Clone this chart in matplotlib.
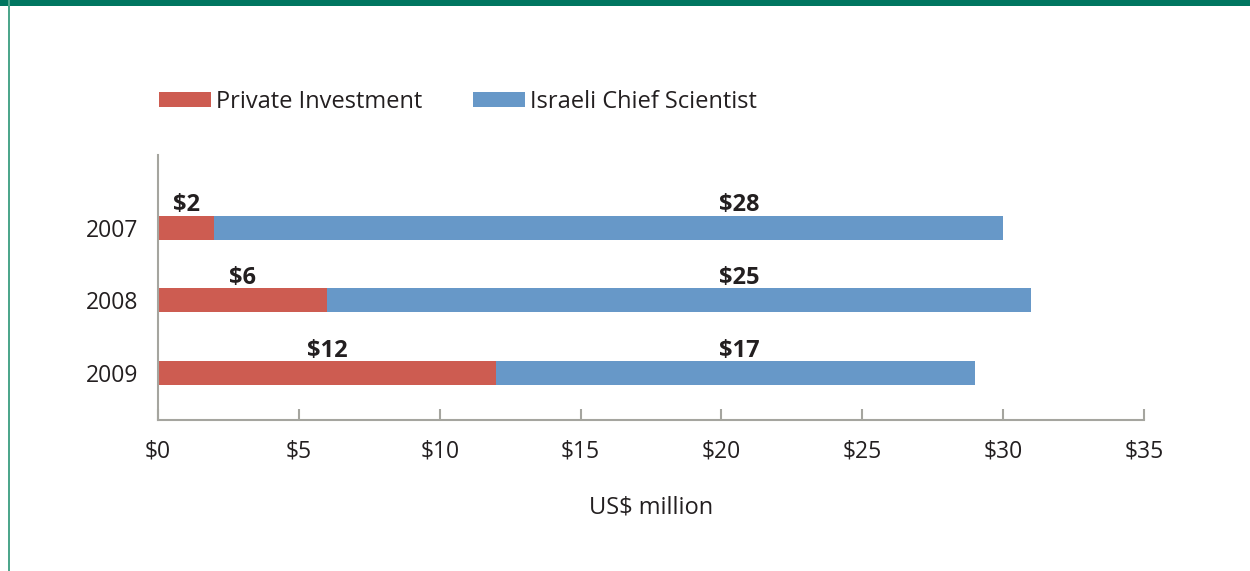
import numpy as np
import matplotlib.pyplot as plt
from matplotlib.patches import Rectangle

years = ['2007', '2008', '2009']
private = [2, 6, 12]
chief = [28, 25, 17]
xticks = [0, 5, 10, 15, 20, 25, 30, 35]

red = '#cd5c51'
blue = '#6798c8'
grey = '#a5a59f'
txt = '#231f20'
plt.rcParams['font.family'] = ['Open Sans', 'DejaVu Sans']

fig = plt.figure(figsize=(12.5, 5.71), dpi=100)
ax = fig.add_axes([0.1264, 0.2644, 0.7888, 0.4641])

y = np.arange(len(years))
h = 0.33
ax.barh(y, private, height=h, color=red, label='Private Investment')
ax.barh(y, chief, left=private, height=h, color=blue, label='Israeli Chief Scientist')

for i in range(len(years)):
    ax.annotate('$%d' % private[i], (private[i] / 2, y[i] - h / 2), xytext=(0, 3),
                textcoords='offset points', ha='center', va='baseline',
                fontsize=17, fontweight='bold', color=txt)
    ax.annotate('$%d' % chief[i], (20.65, y[i] - h / 2), xytext=(0, 3),
                textcoords='offset points', ha='center', va='baseline',
                fontsize=17, fontweight='bold', color=txt)

ax.set_xlim(0, 35)
ax.set_ylim(2.65, -1.0)
ax.set_yticks(y)
ax.set_yticklabels(years)
ax.set_xticks(xticks)
ax.set_xticklabels(['$%d' % v for v in xticks])
ax.tick_params(axis='y', length=0, pad=14, labelsize=16.5, labelcolor=txt)
ax.tick_params(axis='x', direction='in', length=8, width=1.5, color=grey,
               pad=14, labelsize=16.5, labelcolor=txt)
for s in ['top', 'right']:
    ax.spines[s].set_visible(False)
for s in ['left', 'bottom']:
    ax.spines[s].set_color(grey)
    ax.spines[s].set_linewidth(1.5)
ax.set_xlabel('US$ million', fontsize=17, color=txt, labelpad=23)

leg = ax.legend(loc='center left', bbox_to_anchor=(0.001, 1.20), ncol=2, frameon=False,
                fontsize=17, handlelength=2.2, handleheight=0.6, handletextpad=0.22,
                columnspacing=2.15, borderaxespad=0, borderpad=0)
for t in leg.get_texts():
    t.set_color(txt)

# frame lines
fig.add_artist(Rectangle((0, 1 - 6 / 571), 1, 6 / 571, transform=fig.transFigure,
                         color='#007660', lw=0))
fig.add_artist(Rectangle((8 / 1250, 0), 1.5 / 1250, 1, transform=fig.transFigure,
                         color='#4da68c', lw=0))

fig.savefig('out.png', dpi=100)
